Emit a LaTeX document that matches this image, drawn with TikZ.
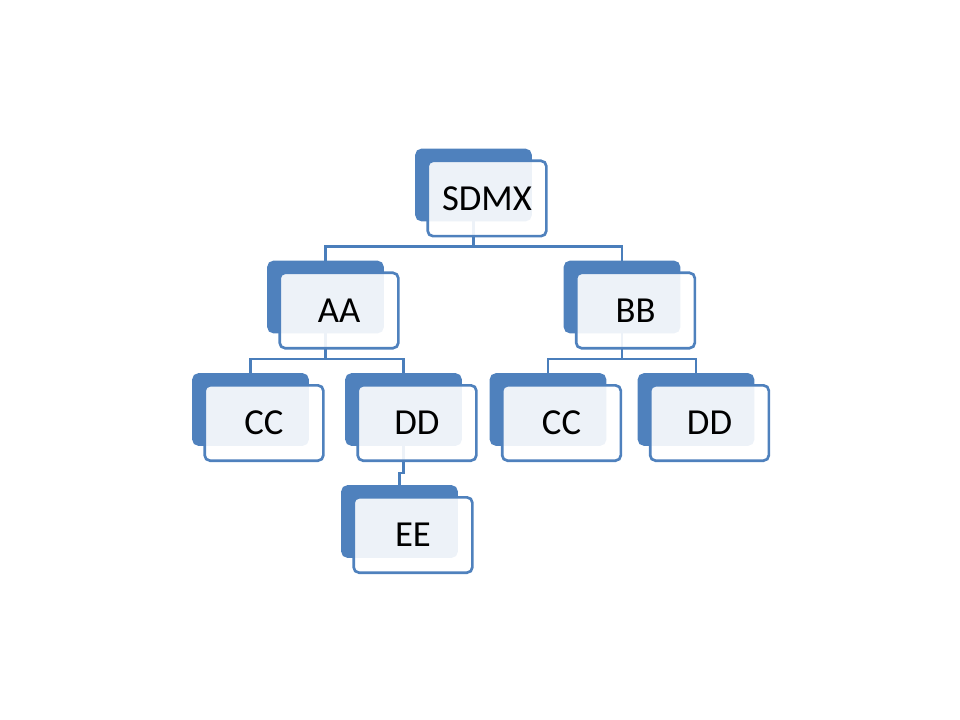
\documentclass[tikz,border=0pt]{standalone}
\usepackage{fontspec}
\setmainfont{Carlito}
\definecolor{boxblue}{HTML}{4F81BD}
\definecolor{linkblue}{HTML}{4A7EBB}
\tikzset{
  backbox/.style={draw=boxblue, fill=boxblue, line width=1.5pt, rounded corners=4pt,
    minimum width=86pt, minimum height=53pt, inner sep=0pt},
  frontbox/.style={draw=boxblue, fill=white, fill opacity=0.9, text opacity=1, line width=2pt,
    rounded corners=4pt, minimum width=89pt, minimum height=56.5pt, inner sep=0pt,
    font=\fontsize{27.5}{32}\selectfont},
  conn/.style={draw=linkblue, line width=1.9pt}
}
\newcommand{\elem}[4]{%
  \node[backbox] (#1-b) at (#2,#3) {};
  \node[frontbox] (#1) at ({#2+13.5},{#3+13.5}) {#4};
}
\begin{document}
\begin{tikzpicture}[x=0.75pt,y=-0.75pt]
\useasboundingbox (0,0) rectangle (960,720);
% anchors of back boxes (for connectors, drawn first)
\node[backbox, draw=none, fill=none] (sdmx-b) at (473.5,185) {};
\node[backbox, draw=none, fill=none] (aa-b) at (325.5,297) {};
\node[backbox, draw=none, fill=none] (bb-b) at (622,297) {};
\node[backbox, draw=none, fill=none] (cc1-b) at (250.5,409.5) {};
\node[backbox, draw=none, fill=none] (dd1-b) at (403.5,409.5) {};
\node[backbox, draw=none, fill=none] (cc2-b) at (548,409.5) {};
\node[backbox, draw=none, fill=none] (dd2-b) at (696,409.5) {};
\node[backbox, draw=none, fill=none] (ee-b) at (399.5,521.5) {};
% connectors
\draw[conn] (aa-b.north) -- ++(0,-14) -| (sdmx-b.south);
\draw[conn] (bb-b.north) -- ++(0,-14) -| (sdmx-b.south);
\draw[conn] (cc1-b.north) -- ++(0,-14) -| (aa-b.south);
\draw[conn] (dd1-b.north) -- ++(0,-14) -| (aa-b.south);
\draw[conn] (cc2-b.north) -- ++(0,-14) -| (bb-b.south);
\draw[conn] (dd2-b.north) -- ++(0,-14) -| (bb-b.south);
\draw[conn] (ee-b.north) -- ++(0,-12) -| (dd1-b.south);
% boxes
\elem{sdmx}{473.5}{185}{SDMX}
\elem{aa}{325.5}{297}{AA}
\elem{bb}{622}{297}{BB}
\elem{cc1}{250.5}{409.5}{CC}
\elem{dd1}{403.5}{409.5}{DD}
\elem{cc2}{548}{409.5}{CC}
\elem{dd2}{696}{409.5}{DD}
\elem{ee}{399.5}{521.5}{EE}
\end{tikzpicture}
\end{document}
